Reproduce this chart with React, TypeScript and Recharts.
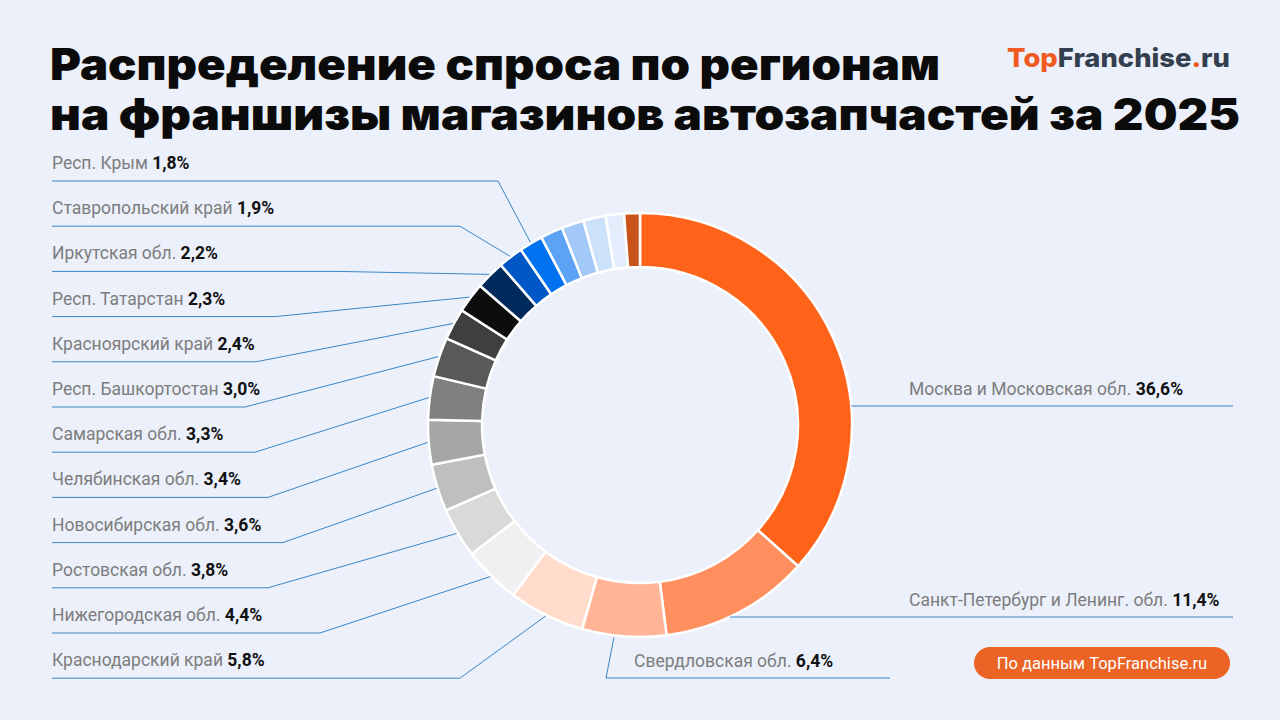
import { PieChart, Pie, Cell } from 'recharts';

// Доля спроса по регионам, % (по часовой стрелке от верхней точки)
const regionNames = [
  'Москва и Московская обл.',
  'Санкт-Петербург и Ленинг. обл.',
  'Свердловская обл.',
  'Краснодарский край',
  'Нижегородская обл.',
  'Ростовская обл.',
  'Новосибирская обл.',
  'Челябинская обл.',
  'Самарская обл.',
  'Респ. Башкортостан',
  'Красноярский край',
  'Респ. Татарстан',
  'Иркутская обл.',
  'Ставропольский край',
  'Респ. Крым',
];
const regionShares = [36.6, 11.4, 6.4, 5.8, 4.4, 3.8, 3.6, 3.4, 3.3, 3.0, 2.4, 2.3, 2.2, 1.9, 1.8];
// unlabelled slices at the end of the ring
const otherShares = [1.7, 1.7, 1.7, 1.4, 1.2];

const sliceColors = [
  '#FF6319', '#FF8F5E', '#FFB596', '#FFDCCB',
  '#F0F0F0', '#D9D9D9', '#BFBFBF', '#A6A6A6', '#808080', '#595959', '#3F3F3F', '#0D0D0D',
  '#002A5C', '#0057C6', '#0072F0',
  '#5CA3F5', '#A3C9F8', '#CCE1FA', '#E3EDFB', '#C8531B',
];

const chartData = [
  ...regionNames.map((name, i) => ({ name, value: regionShares[i] })),
  ...otherShares.map((value, i) => ({ name: `other-${i}`, value })),
];

const BG = '#EBF0FA';
const LINE = '#3A86C8';
const FONT = 'Roboto, "Noto Sans", sans-serif';

// left column: elbow x of each leader, top row (Крым) first
const leftElbowX = [498, 460, 337, 275, 256, 245, 255, 268, 283, 268, 320, 460];
const LEFT_X = 52;
const LEFT_TOP = 181;
const LEFT_STEP = 45.2;

const fmt = (v: number) => v.toFixed(1).replace('.', ',') + '%';

function LabelText({ x, y, name, value }: { x: number; y: number; name: string; value: number }) {
  return (
    <text x={x} y={y} fontFamily={FONT} fontSize={17.5}>
      <tspan fill="#7d7d7d">{name} </tspan>
      <tspan fill="#111" fontWeight={700}>{fmt(value)}</tspan>
    </text>
  );
}

function renderLabel(props: any) {
  const { cx, cy, midAngle, outerRadius, index, name, value } = props;
  if (index >= regionNames.length) return null;
  const rad = (-midAngle * Math.PI) / 180;
  const px = cx + (outerRadius + 1) * Math.cos(rad);
  const py = cy + (outerRadius + 1) * Math.sin(rad);

  if (index === 0 || index === 1) {
    const y = index === 0 ? 406 : 617;
    const startX = cx + Math.sqrt(outerRadius * outerRadius - (y - cy) * (y - cy));
    return (
      <g>
        <line x1={startX} y1={y} x2={1233} y2={y} stroke={LINE} strokeWidth={1} />
        <LabelText x={909} y={y - 11} name={name} value={value} />
      </g>
    );
  }
  if (index === 2) {
    const y = 678;
    return (
      <g>
        <polyline points={`${px - 10},${py} 606,${y} 890,${y}`} fill="none" stroke={LINE} strokeWidth={1} />
        <LabelText x={634} y={y - 11} name={name} value={value} />
      </g>
    );
  }
  const row = regionNames.length - 1 - index;
  const y = LEFT_TOP + row * LEFT_STEP;
  const ex = leftElbowX[row];
  return (
    <g>
      <polyline points={`${LEFT_X},${y} ${ex},${y} ${px},${py}`} fill="none" stroke={LINE} strokeWidth={1} />
      <LabelText x={LEFT_X} y={y - 12} name={name} value={value} />
    </g>
  );
}

export default function App() {
  return (
    <div style={{ position: 'absolute', left: 0, top: 0, width: 1280, height: 720, background: BG, overflow: 'hidden' }}>
      <PieChart width={1280} height={720} margin={{ top: 0, right: 0, bottom: 0, left: 0 }}>
        <Pie
          data={chartData}
          dataKey="value"
          nameKey="name"
          cx={640}
          cy={425}
          innerRadius={158}
          outerRadius={212}
          startAngle={90}
          endAngle={-270}
          stroke="#ffffff"
          strokeWidth={2.5}
          label={renderLabel}
          labelLine={false}
          isAnimationActive={false}
        >
          {chartData.map((_, i) => (
            <Cell key={i} fill={sliceColors[i]} />
          ))}
        </Pie>
      </PieChart>
      <svg width={1280} height={720} style={{ position: 'absolute', left: 0, top: 0, pointerEvents: 'none' }}>
        <text x={50} y={80} fontFamily="Inter, sans-serif" fontWeight={900} fontSize={44} fill="#0b0b0b"
          textLength={890} lengthAdjust="spacingAndGlyphs">
          Распределение спроса по регионам
        </text>
        <text x={50} y={130} fontFamily="Inter, sans-serif" fontWeight={900} fontSize={44} fill="#0b0b0b"
          textLength={1190} lengthAdjust="spacingAndGlyphs">
          на франшизы магазинов автозапчастей за 2025
        </text>
        <text x={1007} y={67} fontFamily="Inter, sans-serif" fontWeight={800} fontSize={26}
          textLength={223} lengthAdjust="spacingAndGlyphs">
          <tspan fill="#F05A22">Top</tspan>
          <tspan fill="#333F4F">Franchise</tspan>
          <tspan fill="#F05A22">.</tspan>
          <tspan fill="#333F4F">ru</tspan>
        </text>
        <rect x={974} y={647} width={256} height={32} rx={16} fill="#EC6326" />
        <text x={1102} y={669} textAnchor="middle" fontFamily={FONT} fontSize={16.5} fill="#ffffff">
          По данным TopFranchise.ru
        </text>
      </svg>
    </div>
  );
}
